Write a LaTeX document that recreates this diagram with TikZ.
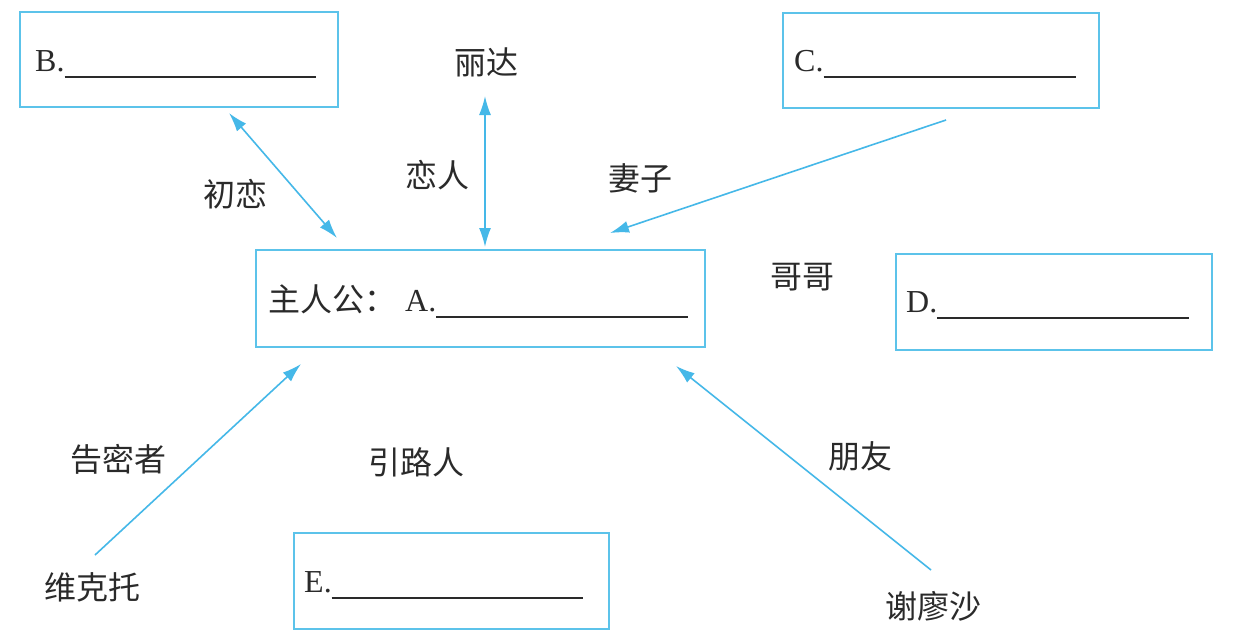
\documentclass[tikz,border=0pt]{standalone}
\usepackage{fontspec}
\setmainfont{Liberation Serif}
\newfontfamily\cjk{Noto Sans CJK SC}
\usetikzlibrary{arrows.meta}
\definecolor{lineblue}{HTML}{45B8E8}
\definecolor{boxblue}{HTML}{5CC3EA}
\definecolor{ink}{HTML}{2A2A2A}
\tikzset{
  answerbox/.style={draw=boxblue, line width=2pt, inner sep=0pt},
  boxtext/.style={anchor=base west, inner sep=0pt, text=ink, font=\fontsize{32}{34}\selectfont},
  relabel/.style={inner sep=0pt, text=ink, font=\cjk\fontsize{32}{34}\selectfont},
  link/.style={draw=lineblue, line width=1.6pt, -{Latex[length=19pt,width=12pt]}},
  duallink/.style={draw=lineblue, line width=1.6pt, {Latex[length=19pt,width=12pt]}-{Latex[length=19pt,width=12pt]}},
}
\begin{document}
\begin{tikzpicture}[x=1pt,y=-1pt]
\fill[white] (0,0) rectangle (1240,638);
\useasboundingbox (0,0) rectangle (1240,638);

% boxes
\node[answerbox, minimum width=318pt, minimum height=95pt] (B) at (179,59.5) {};
\node[answerbox, minimum width=316pt, minimum height=95pt] (C) at (941,60.5) {};
\node[answerbox, minimum width=449pt, minimum height=97pt] (A) at (480.5,298.5) {};
\node[answerbox, minimum width=316pt, minimum height=96pt] (D) at (1054,302) {};
\node[answerbox, minimum width=315pt, minimum height=96pt] (E) at (451.5,581) {};

% box texts
\node[boxtext] (Bt) at (35,71) {B.\rule[-7pt]{251pt}{1.6pt}};
\node[boxtext] (Ct) at (794,71) {C.\rule[-7pt]{252pt}{1.6pt}};
\node[boxtext] (At) at (268,311) {{\cjk 主人公：}\hspace{9pt}A.\rule[-7pt]{252pt}{1.6pt}};
\node[boxtext] (Dt) at (906,312) {D.\rule[-7pt]{252pt}{1.6pt}};
\node[boxtext] (Et) at (304,592) {E.\rule[-7pt]{251pt}{1.6pt}};

% labels
\node[relabel] (lida) at (486,62) {丽达};
\node[relabel] (lianren) at (437,175) {恋人};
\node[relabel] (chulian) at (235,194) {初恋};
\node[relabel] (qizi) at (640,178) {妻子};
\node[relabel] (gege) at (802,277) {哥哥};
\node[relabel] (gaomi) at (118,459) {告密者};
\node[relabel] (yinlu) at (416,462) {引路人};
\node[relabel] (pengyou) at (860,456) {朋友};
\node[relabel] (vik) at (92,587) {维克托};
\node[relabel] (xie) at (933,606) {谢廖沙};

% connector end points
\coordinate (b1) at (229,113);
\coordinate (b2) at (337,238);
\coordinate (l1) at (485,96);
\coordinate (l2) at (485,247);
\coordinate (c1) at (946,120);
\coordinate (c2) at (610,233);
\coordinate (v1) at (95,555);
\coordinate (v2) at (301,364);
\coordinate (x1) at (931,570);
\coordinate (x2) at (676,366);

\draw[duallink] (b1) -- (b2);
\draw[duallink] (l1) -- (l2);
\draw[link] (c1) -- (c2);
\draw[link] (v1) -- (v2);
\draw[link] (x1) -- (x2);
\end{tikzpicture}
\end{document}
